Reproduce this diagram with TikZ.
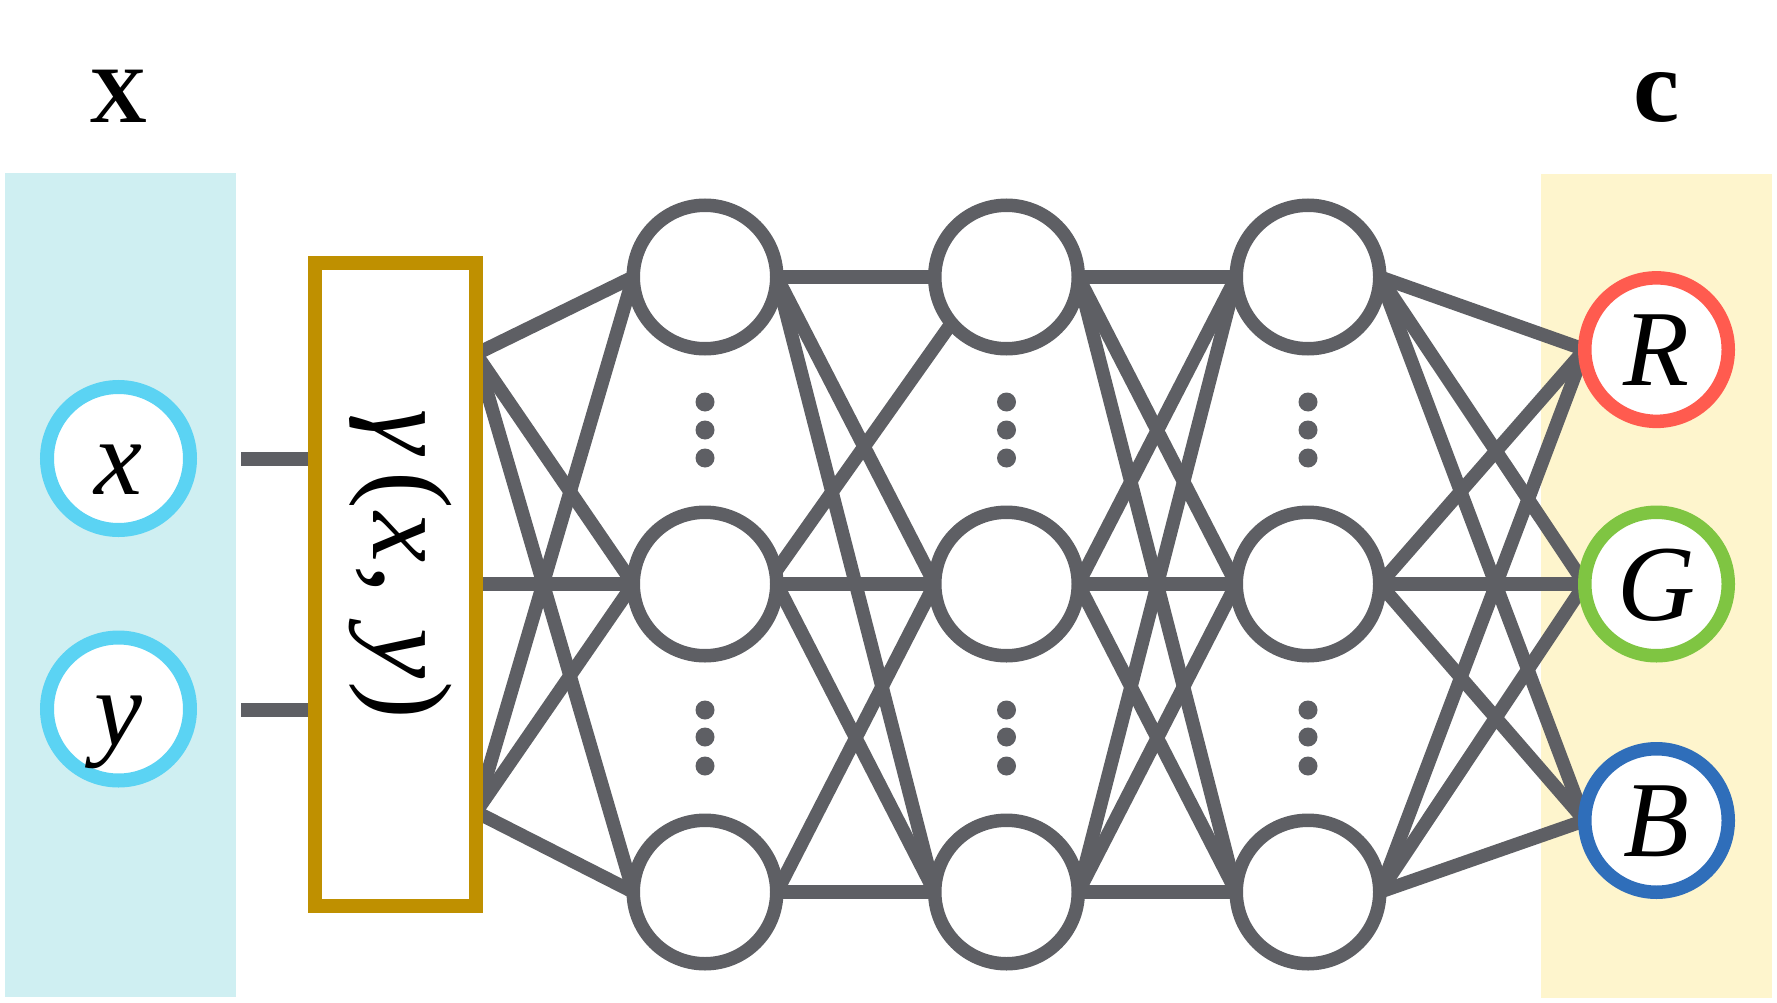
\documentclass[tikz,border=0pt]{standalone}
\usepackage{fontspec}
\setmainfont{Liberation Serif}
\usetikzlibrary{calc}
\definecolor{netgray}{HTML}{5E5F64}
\definecolor{incyan}{HTML}{5BD3F3}
\definecolor{cyanbg}{HTML}{CFEFF2}
\definecolor{yelbg}{HTML}{FEF5CD}
\definecolor{goldc}{HTML}{BF9000}
\definecolor{redc}{HTML}{FF5B4F}
\definecolor{greenc}{HTML}{7FC542}
\definecolor{bluec}{HTML}{2F6EBA}
\pgfdeclarelayer{panels}
\pgfdeclarelayer{edges}
\pgfsetlayers{panels,edges,main}
\tikzset{
  hid/.style={circle, draw=netgray, fill=white, line width=13.5pt, minimum size=143.5pt, inner sep=0pt, outer sep=0pt},
  inp/.style={hid, draw=incyan, line width=14pt, minimum size=143pt},
  outc/.style={hid},
  conn/.style={draw=netgray, line width=13.5pt},
  lett/.style={font=\fontsize{108}{110}\selectfont\itshape, text height=72pt, text depth=0pt},
  dotc/.style={fill=netgray}
}
\begin{document}
\begin{tikzpicture}[x=1pt,y=-1pt]
\useasboundingbox (0,0) rectangle (1777,1003);
% panels
\begin{pgfonlayer}{panels}
  \fill[cyanbg] (5,173) rectangle (236,997);
  \fill[yelbg] (1541,174) rectangle (1772,998);
\end{pgfonlayer}
% titles
\node[font=\fontsize{80}{90}\selectfont\bfseries, anchor=base, inner sep=0pt] (lx) at (118,123) {X};
\node[font=\fontsize{104}{110}\selectfont\bfseries, anchor=base, inner sep=0pt] (lc) at (1657,122) {c};
% inputs
\node[inp, lett] (xin) at (118.5,458.5) {x};
\node[inp, lett] (yin) at (118.5,709) {y};
% gamma box
\node[draw=goldc, fill=white, line width=14pt, minimum width=161pt, minimum height=642.5pt, inner sep=0pt, outer sep=0pt] (gam) at (395.5,584.3) {};
\node[rotate=-90, anchor=base, font=\fontsize{113}{120}\selectfont] (gtxt) at (373.5,564.5) {\textit{γ}\kern15pt(\kern3pt\textit{x}\kern3pt,\kern6pt{} \textit{y}\kern3pt)};
% hidden layers
\foreach \c/\xx in {1/705,2/1006.5,3/1308}{
  \foreach \r/\yy in {1/277,2/584,3/892}{
    \node[hid] (h\c\r) at (\xx,\yy) {};
  }
  \foreach \yy in {402,430,458,710,737,766}{
    \fill[dotc] (\xx,\yy) circle (9.5);
  }
}
% outputs
\node[outc, draw=redc, lett] (oR) at (1656.5,349.6) {R};
\node[outc, draw=greenc, lett] (oG) at (1656.5,584) {G};
\node[outc, draw=bluec, lett] (oB) at (1656.5,820.5) {B};
% connector end points
\coordinate (xa) at (241,459);
\coordinate (ya) at (241,710);
\coordinate (g1) at (476,354);
\coordinate (g2) at (476,584);
\coordinate (g3) at (476,812);
\begin{pgfonlayer}{edges}
  \draw[conn] (xa) -- (xa -| gam.west);
  \draw[conn] (ya) -- (ya -| gam.west);
  % box to first hidden layer
  \foreach \j in {1,2,3}{
    \draw[conn] (g1) -- (h1\j.west);
    \draw[conn] (g3) -- (h1\j.west);
  }
  \draw[conn] (g2) -- (h12.west);
  % first to second hidden layer
  \draw[conn] (h11.east) -- (h21.west);
  \draw[conn] (h11.east) -- (h22.west);
  \draw[conn] (h11.east) -- (h23.west);
  \draw[conn] (h12.10) -- (h21.220);
  \draw[conn] (h12.east) -- (h22.west);
  \draw[conn] (h12.east) -- (h23.west);
  \draw[conn] (h13.east) -- (h22.west);
  \draw[conn] (h13.east) -- (h23.west);
  % second to third hidden layer, third to outputs
  \foreach \i in {1,2,3}{
    \foreach \j in {1,2,3}{
      \draw[conn] (h2\i.east) -- (h3\j.west);
    }
    \draw[conn] (h3\i.east) -- (oR.west);
    \draw[conn] (h3\i.east) -- (oG.west);
    \draw[conn] (h3\i.east) -- (oB.west);
  }
\end{pgfonlayer}
\end{tikzpicture}
\end{document}
